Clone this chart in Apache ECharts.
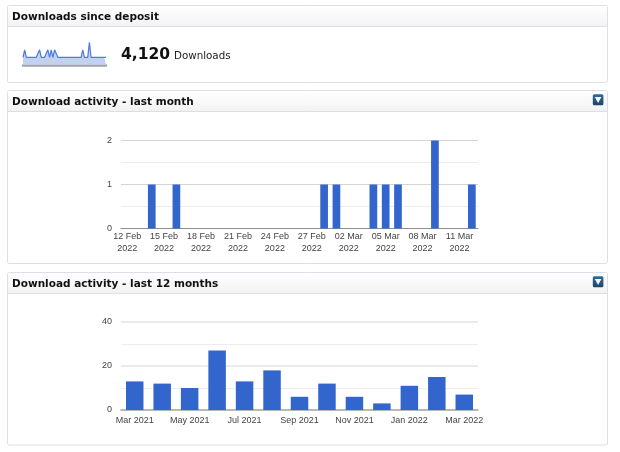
<!DOCTYPE html>
<html><head><meta charset="utf-8">
<style>html,body{margin:0;padding:0;background:#fff}#c{width:620px;height:452px}</style>
<script src="https://cdn.jsdelivr.net/npm/echarts@6/dist/echarts.min.js"></script>
</head><body><div id="c"></div>
<script>
const sparkValues = [1,2,1,1,1,1,1,1,1,1,2,1,1,1,1,2,1,2,1,2,2,1,1,1,1,1,1,1,1,1,1,1,1,1,1,1,2,1,1,1,3,1,1,1,1,1,1,1,1,1,1];
const monthDays = ['12 Feb','13 Feb','14 Feb','15 Feb','16 Feb','17 Feb','18 Feb','19 Feb','20 Feb','21 Feb','22 Feb','23 Feb','24 Feb','25 Feb','26 Feb','27 Feb','28 Feb','01 Mar','02 Mar','03 Mar','04 Mar','05 Mar','06 Mar','07 Mar','08 Mar','09 Mar','10 Mar','11 Mar','12 Mar'];
const monthValues = [0,0,1,0,1,0,0,0,0,0,0,0,0,0,0,0,1,1,0,0,1,1,1,0,0,2,0,0,1];
const yearMonths = ['Mar 2021','Apr 2021','May 2021','Jun 2021','Jul 2021','Aug 2021','Sep 2021','Oct 2021','Nov 2021','Dec 2021','Jan 2022','Feb 2022','Mar 2022'];
const yearValues = [13,12,10,27,13,18,6,12,6,3,11,15,7];
const panelTitles = ['Downloads since deposit','Download activity - last month','Download activity - last 12 months'];
const totalText = '4,120';
const totalUnit = 'Downloads';

const W = 600, X = 7.5;
const panels = [[5.5,77,21],[90.5,173,21],[272.5,172.5,21]];
const g = [];
panels.forEach(([y,h,hh],i)=>{
  g.push({type:'rect',z:-5,shape:{x:X,y,width:W,height:h,r:2},style:{fill:'#fff',stroke:'#dedee6',lineWidth:1}});
  g.push({type:'rect',z:-4,shape:{x:X+.5,y:y+.5,width:W-1,height:hh-.5},style:{fill:new echarts.graphic.LinearGradient(0,0,0,1,[{offset:0,color:'#ffffff'},{offset:1,color:'#f2f2f3'}])}});
  g.push({type:'line',z:-4,shape:{x1:X,y1:y+hh,x2:X+W,y2:y+hh},style:{stroke:'#dedee8',lineWidth:1}});
  if(i>0){
    const ix=592.8, iy=y+3.75;
    g.push({type:'rect',z:-3,shape:{x:ix,y:iy,width:10.6,height:11,r:1.5},style:{fill:new echarts.graphic.LinearGradient(0,0,0,1,[{offset:0,color:'#2f6c9e'},{offset:1,color:'#1d4468'}])}});
    g.push({type:'polygon',z:-2,shape:{points:[[ix+2,iy+2.8],[ix+8.6,iy+2.8],[ix+5.3,iy+8.8]]},style:{fill:'#f4f8fb'}});
  }
});
const axisText = {color:'#444',fontFamily:'Liberation Sans',fontSize:9};
const major = {show:true,lineStyle:{color:'#d4d4d4',width:1}};
const minor = {show:true,lineStyle:{color:'#ededed',width:1}};
const base = {show:true,onZero:false,lineStyle:{color:'#8e8e8e',width:1}};
const option = {
  animation:false,
  backgroundColor:'#fff',
  title:[
    ...panelTitles.map((t,i)=>({text:t,left:12,top:[11,96,278][i],padding:0,textStyle:{fontFamily:'DejaVu Sans',fontWeight:'bold',fontSize:10.5,color:'#111',lineHeight:13}})),
    {text:totalText,left:121,top:45,padding:0,textStyle:{fontFamily:'DejaVu Sans',fontWeight:'bold',fontSize:15.5,color:'#111',lineHeight:20}},
    {text:totalUnit,left:174,top:49,padding:0,textStyle:{fontFamily:'DejaVu Sans',fontWeight:'normal',fontSize:10.3,color:'#222',lineHeight:14}}
  ],
  graphic:g,
  grid:[
    {left:23,width:83,top:42.3,height:22.5},
    {left:121,width:357,top:140.5,height:88},
    {left:121,width:357,top:322,height:88}
  ],
  xAxis:[
    {gridIndex:0,type:'category',data:sparkValues.map((_,i)=>i),boundaryGap:false,axisLabel:{show:false},axisTick:{show:false},axisLine:{show:true,lineStyle:{color:'#a3a3a8',width:2.5}}},
    {gridIndex:1,type:'category',data:monthDays,axisTick:{show:false},axisLine:base,
     axisLabel:{...axisText,interval:2,lineHeight:12,margin:2,hideOverlap:false,formatter:v=>v+'\n2022'}},
    {gridIndex:2,type:'category',data:yearMonths,axisTick:{show:false},axisLine:{...base,lineStyle:{color:'#a8a8a8',width:1.5}},
     axisLabel:{...axisText,interval:1,margin:6,hideOverlap:false}}
  ],
  yAxis:[
    {gridIndex:0,type:'value',min:0,max:3,show:false},
    {gridIndex:1,type:'value',min:0,max:2,interval:1,axisLine:{show:false},axisTick:{show:false},axisLabel:{...axisText,margin:9},splitLine:major,minorTick:{show:false,splitNumber:2},minorSplitLine:minor},
    {gridIndex:2,type:'value',min:0,max:40,interval:20,axisLine:{show:false},axisTick:{show:false},axisLabel:{...axisText,margin:9},splitLine:{show:true,lineStyle:{color:'#e4e4e4',width:1.5}},minorTick:{show:false,splitNumber:2},minorSplitLine:minor}
  ],
  series:[
    {type:'line',xAxisIndex:0,yAxisIndex:0,data:sparkValues,symbol:'none',silent:true,lineStyle:{color:'#4f7bd6',width:1.2},areaStyle:{color:'#c3d1ef',opacity:1,origin:'start'}},
    {type:'bar',xAxisIndex:1,yAxisIndex:1,data:monthValues,barWidth:7.7,itemStyle:{color:'#3366cc'}},
    {type:'bar',xAxisIndex:2,yAxisIndex:2,data:yearValues,barWidth:17.5,itemStyle:{color:'#3366cc'}}
  ]
};
echarts.init(document.getElementById('c'),null,{renderer:'canvas'}).setOption(option);
</script></body></html>
